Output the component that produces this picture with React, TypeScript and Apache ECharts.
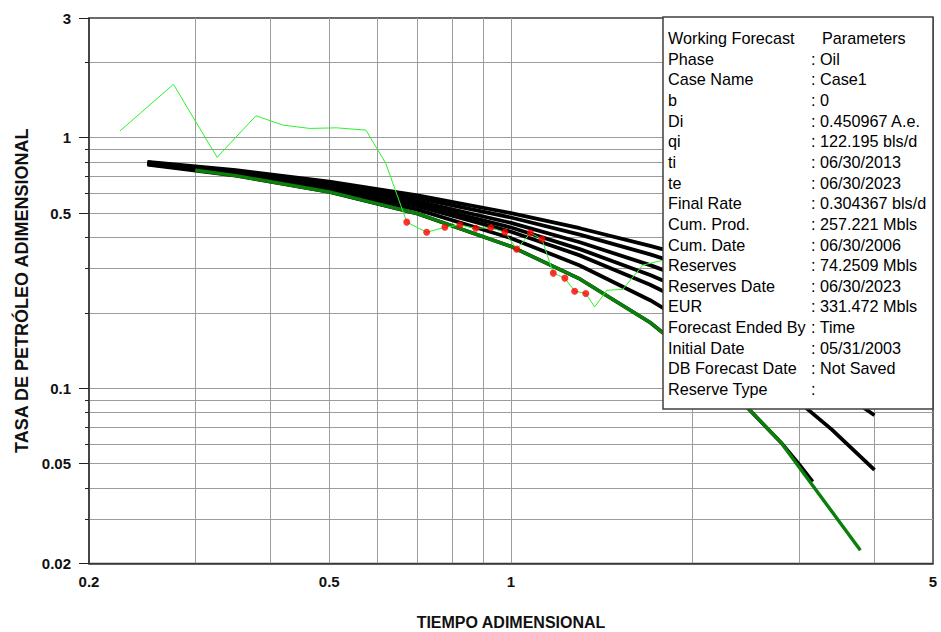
import React, { useEffect, useRef } from "react";
import * as echarts from "echarts";

// ---- Axis ticks / grid values ----
const xTickLabels = [0.2, 0.5, 1, 5];
const xGridValues = [0.3, 0.4, 0.5, 0.6, 0.7, 0.8, 0.9, 1, 2, 3, 4];
const yTickLabels = [0.02, 0.05, 0.1, 0.5, 1, 3];
const yGridValues = [0.03, 0.04, 0.05, 0.06, 0.07, 0.08, 0.09, 0.1, 0.2, 0.3, 0.4, 0.5, 0.6, 0.7, 0.8, 0.9, 1, 2];

// ---- Type curves (black stems) ----
const stemT = [0.25, 0.35, 0.5, 0.7, 1.0, 1.3, 1.7, 2.2, 2.8, 3.4, 4.0];
const stemA = [0.783, 0.712, 0.619, 0.516, 0.397, 0.309, 0.2246, 0.1543, 0.1013, 0.0684, 0.0473];
const stemB = [0.786, 0.718, 0.63, 0.533, 0.421, 0.339, 0.259, 0.191, 0.1376, 0.1023, 0.0781];
const stemC = [0.789, 0.7225, 0.637, 0.544, 0.438, 0.359, 0.283, 0.2167, 0.1633, 0.1271, 0.1015];
const stemD = [0.792, 0.728, 0.646, 0.557, 0.457, 0.3825, 0.31, 0.246, 0.1934, 0.1567, 0.13];
const stemE = [0.796, 0.7345, 0.657, 0.5736, 0.48, 0.41, 0.342, 0.281, 0.23, 0.1935, 0.166];
const stemF = [0.8, 0.741, 0.667, 0.588, 0.5, 0.435, 0.37, 0.3125, 0.263, 0.227, 0.2];

// exponential stem (black, under the green)
const expT = [0.25, 0.35, 0.5, 0.7, 1.0, 1.3, 1.7, 2.2, 2.8, 3.0, 3.16];
const expQ = [0.779, 0.705, 0.607, 0.497, 0.368, 0.273, 0.183, 0.111, 0.0608, 0.0498, 0.0424];

// ---- Working forecast (thick green) ----
const fcT = [0.3, 0.35, 0.5, 0.7, 1.0, 1.3, 1.7, 2.2, 2.8, 3.79];
const fcQ = [0.741, 0.705, 0.607, 0.497, 0.368, 0.273, 0.183, 0.111, 0.0608, 0.0226];

// ---- Production data (thin green) ----
const prodT = [0.225, 0.276, 0.326, 0.378, 0.419, 0.464, 0.514, 0.575, 0.62, 0.672, 0.725, 0.777, 0.823, 0.874, 0.926, 0.977, 1.022, 1.077, 1.125, 1.175, 1.228, 1.275, 1.33, 1.376, 1.441, 1.531, 1.653, 1.764, 1.9];
const prodQ = [1.062, 1.631, 0.834, 1.222, 1.122, 1.088, 1.094, 1.071, 0.791, 0.46, 0.419, 0.439, 0.448, 0.435, 0.437, 0.419, 0.359, 0.416, 0.394, 0.288, 0.275, 0.244, 0.239, 0.211, 0.246, 0.248, 0.31, 0.322, 0.33];

// ---- Matched points (red) ----
const matchT = [0.672, 0.725, 0.777, 0.823, 0.874, 0.926, 0.977, 1.022, 1.077, 1.125, 1.175, 1.228, 1.275, 1.33];
const matchQ = [0.46, 0.419, 0.439, 0.448, 0.435, 0.437, 0.419, 0.359, 0.416, 0.394, 0.288, 0.275, 0.244, 0.239];

// ---- Info box ----
const infoHeader = ["Working Forecast", "Parameters"];
const infoLabels = ["Phase", "Case Name", "b", "Di", "qi", "ti", "te", "Final Rate", "Cum. Prod.", "Cum. Date", "Reserves", "Reserves Date", "EUR", "Forecast Ended By", "Initial Date", "DB Forecast Date", "Reserve Type"];
const infoValues = [": Oil", ": Case1", ": 0", ": 0.450967 A.e.", ": 122.195 bls/d", ": 06/30/2013", ": 06/30/2023", ": 0.304367 bls/d", ": 257.221 Mbls", ": 06/30/2006", ": 74.2509 Mbls", ": 06/30/2023", ": 331.472 Mbls", ": Time", ": 05/31/2003", ": Not Saved", ":"];

const pairs = (xs: number[], ys: number[]) => xs.map((x, i) => [x, ys[i]]);
const fmt = (v: number) => String(+Number(v).toPrecision(6));

const FONT = 'Arial, "Liberation Sans", sans-serif';

export default function App() {
  const ref = useRef<HTMLDivElement>(null);

  useEffect(() => {
    document.body.style.margin = "0";
    if (!ref.current) return;
    const chart = echarts.init(ref.current, undefined, { renderer: "svg" });

    const stems = [stemA, stemB, stemC, stemD, stemE, stemF];

    const graphicEls: any[] = [
      {
        type: "rect",
        z: 100,
        shape: { x: 663, y: 17, width: 270, height: 392 },
        style: { fill: "#ffffff", stroke: "#404040", lineWidth: 1.5 },
      },
    ];
    const rowY0 = 38;
    const rowH = 20.65;
    const infoFont = `16.2px ${FONT}`;
    graphicEls.push({
      type: "text", z: 101, x: 668, y: rowY0,
      style: { text: infoHeader[0], fill: "#000", font: infoFont, verticalAlign: "middle", align: "left" },
    });
    graphicEls.push({
      type: "text", z: 101, x: 822, y: rowY0,
      style: { text: infoHeader[1], fill: "#000", font: infoFont, verticalAlign: "middle", align: "left" },
    });
    infoLabels.forEach((lab, i) => {
      const y = rowY0 + rowH * (i + 1);
      graphicEls.push({
        type: "text", z: 101, x: 668, y,
        style: { text: lab, fill: "#000", font: infoFont, verticalAlign: "middle", align: "left" },
      });
      graphicEls.push({
        type: "text", z: 101, x: 811, y,
        style: { text: infoValues[i], fill: "#000", font: infoFont, verticalAlign: "middle", align: "left" },
      });
    });

    const series: any[] = [];
    stems.forEach((s) => {
      series.push({
        type: "line",
        data: pairs(stemT, s),
        showSymbol: false,
        lineStyle: { color: "#000000", width: 3.8 },
        z: 2,
      });
    });
    series.push({
      type: "line",
      data: pairs(expT, expQ),
      showSymbol: false,
      lineStyle: { color: "#000000", width: 3.6 },
      z: 2,
    });
    series.push({
      type: "line",
      data: pairs(fcT, fcQ),
      showSymbol: false,
      lineStyle: { color: "#0a800a", width: 3.4 },
      z: 3,
    });
    series.push({
      type: "line",
      data: pairs(prodT, prodQ),
      showSymbol: false,
      lineStyle: { color: "#2cf22c", width: 1 },
      z: 4,
    });
    series.push({
      type: "scatter",
      data: pairs(matchT, matchQ),
      symbol: "circle",
      symbolSize: 7,
      itemStyle: { color: "#ff0000" },
      z: 5,
    });

    const option: any = {
      animation: false,
      backgroundColor: "#ffffff",
      textStyle: { fontFamily: FONT },
      grid: {
        left: 89,
        right: 8,
        top: 18,
        bottom: 68.5,
        outerBoundsMode: "none",
        containLabel: false,
        show: true,
        borderColor: "#3a3a3a",
        borderWidth: 1.5,
        backgroundColor: "transparent",
      },
      xAxis: [
        {
          type: "log",
          logBase: 10,
          min: 0.2,
          max: 5,
          position: "bottom",
          axisLine: { show: true, lineStyle: { color: "#3a3a3a", width: 1.5 } },
          axisTick: { show: false },
          axisLabel: {
            customValues: xTickLabels,
            formatter: (v: number) => fmt(v),
            margin: 10,
            fontWeight: "bold",
            fontSize: 15,
            color: "#111",
            fontFamily: FONT,
          },
          splitLine: { show: false },
          name: "TIEMPO ADIMENSIONAL",
          nameLocation: "middle",
          nameGap: 51,
          nameTextStyle: { fontWeight: "bold", fontSize: 16, color: "#111", fontFamily: FONT },
        },
        {
          type: "log",
          logBase: 10,
          min: 0.2,
          max: 5,
          position: "bottom",
          axisLine: { show: false },
          axisTick: { show: false, customValues: xGridValues },
          axisLabel: { show: false },
          splitLine: { show: true, lineStyle: { color: "#9c9c9c", width: 1 } },
        },
      ],
      yAxis: [
        {
          type: "log",
          logBase: 10,
          min: 0.02,
          max: 3,
          position: "left",
          axisLine: { show: true, lineStyle: { color: "#3a3a3a", width: 1.5 } },
          axisTick: { show: true, customValues: yTickLabels, length: 10, lineStyle: { color: "#222" } },
          axisLabel: {
            customValues: yTickLabels,
            formatter: (v: number) => fmt(v),
            margin: 18,
            fontWeight: "bold",
            fontSize: 15,
            color: "#111",
            fontFamily: FONT,
          },
          splitLine: { show: false },
          name: "TASA DE PETRÓLEO ADIMENSIONAL",
          nameLocation: "middle",
          nameGap: 56,
          nameTextStyle: { fontWeight: "bold", fontSize: 18, color: "#111", fontFamily: FONT },
        },
        {
          type: "log",
          logBase: 10,
          min: 0.02,
          max: 3,
          position: "left",
          axisLine: { show: false },
          axisTick: { show: true, customValues: yGridValues, length: 4, lineStyle: { color: "#222" } },
          axisLabel: { show: false },
          splitLine: { show: true, lineStyle: { color: "#9c9c9c", width: 1 } },
        },
      ],
      series,
      graphic: { elements: graphicEls },
    };

    chart.setOption(option);
    return () => {
      chart.dispose();
    };
  }, []);

  return <div ref={ref} style={{ width: 941, height: 632 }} />;
}
